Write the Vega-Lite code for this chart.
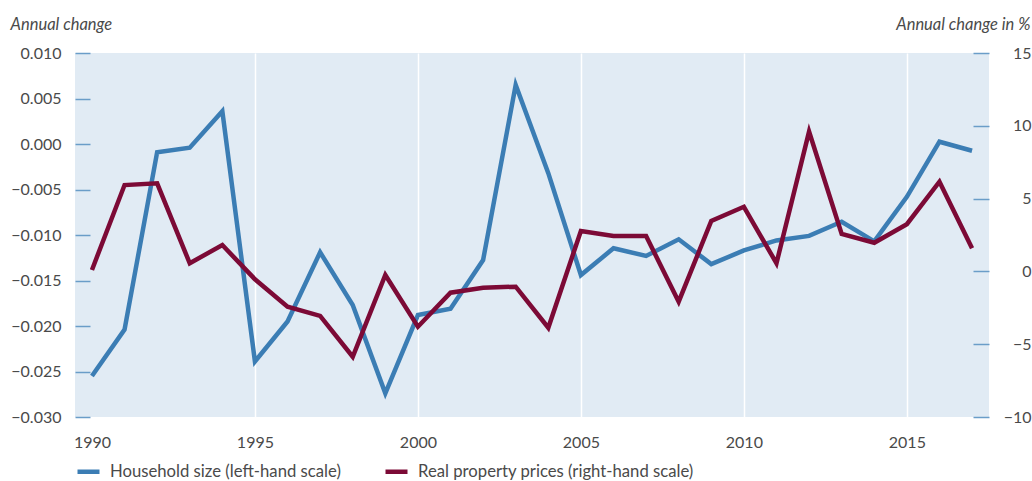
{
  "$schema": "https://vega.github.io/schema/vega-lite/v6.json",
  "width": 914,
  "height": 364,
  "autosize": {"type": "none"},
  "padding": {"left": 75, "top": 53, "right": 43, "bottom": 64},
  "background": "white",
  "config": {
    "view": {"fill": "#e1ebf4", "stroke": null},
    "font": "Lato",
    "axis": {"labelFont": "Lato", "titleFont": "Lato", "labelColor": "#4a4a4a", "titleColor": "#4a4a4a"},
    "legend": {"labelFont": "Lato"}
  },
  "data": {
    "values": [
      {"year": 1990, "hh": -0.0255, "rp": 0.1},
      {"year": 1991, "hh": -0.0204, "rp": 5.93},
      {"year": 1992, "hh": -0.0009, "rp": 6.05},
      {"year": 1993, "hh": -0.0004, "rp": 0.56},
      {"year": 1994, "hh": 0.0036, "rp": 1.81},
      {"year": 1995, "hh": -0.0239, "rp": -0.54},
      {"year": 1996, "hh": -0.0195, "rp": -2.42},
      {"year": 1997, "hh": -0.0119, "rp": -3.06},
      {"year": 1998, "hh": -0.0177, "rp": -5.86},
      {"year": 1999, "hh": -0.0274, "rp": -0.25},
      {"year": 2000, "hh": -0.0188, "rp": -3.8},
      {"year": 2001, "hh": -0.0181, "rp": -1.46},
      {"year": 2002, "hh": -0.01275, "rp": -1.12},
      {"year": 2003, "hh": 0.0065, "rp": -1.05},
      {"year": 2004, "hh": -0.0032, "rp": -3.87},
      {"year": 2005, "hh": -0.0144, "rp": 2.78},
      {"year": 2006, "hh": -0.01146, "rp": 2.43},
      {"year": 2007, "hh": -0.0123, "rp": 2.43},
      {"year": 2008, "hh": -0.01047, "rp": -2.08},
      {"year": 2009, "hh": -0.0132, "rp": 3.46},
      {"year": 2010, "hh": -0.0117, "rp": 4.44},
      {"year": 2011, "hh": -0.0106, "rp": 0.56},
      {"year": 2012, "hh": -0.0101, "rp": 9.6},
      {"year": 2013, "hh": -0.00854, "rp": 2.57},
      {"year": 2014, "hh": -0.0107, "rp": 1.97},
      {"year": 2015, "hh": -0.0058, "rp": 3.24},
      {"year": 2016, "hh": 0.00025, "rp": 6.16},
      {"year": 2017, "hh": -0.00074, "rp": 1.59}
    ]
  },
  "encoding": {
    "x": {
      "field": "year",
      "type": "quantitative",
      "scale": {"domain": [1989.48, 2017.52], "nice": false, "zero": false},
      "axis": {
        "orient": "bottom",
        "title": null,
        "values": [1990, 1995, 2000, 2005, 2010, 2015],
        "format": "d",
        "domain": false,
        "ticks": false,
        "labelPadding": 17,
        "labelFontSize": 16,
        "labelBaseline": "top",
        "grid": true,
        "gridColor": "white",
        "gridWidth": 1.5,
        "gridOpacity": {"condition": {"test": "datum.value === 1990", "value": 0}, "value": 1}
      }
    }
  },
  "layer": [
    {
      "mark": {"type": "line", "strokeWidth": 4.5, "strokeJoin": "miter"},
      "encoding": {
        "y": {
          "field": "hh",
          "type": "quantitative",
          "scale": {"domain": [-0.03, 0.01], "nice": false, "zero": false},
          "axis": {
            "orient": "left",
            "offset": -15,
            "values": [-0.03, -0.025, -0.02, -0.015, -0.01, -0.005, 0, 0.005, 0.01],
            "format": ".3f",
            "domain": false,
            "grid": false,
            "tickSize": 15,
            "tickColor": "#6a9dc8",
            "tickWidth": 1.5,
            "labelPadding": 14,
            "labelFontSize": 16,
            "title": "Annual change",
            "titleAngle": 0,
            "titleFontStyle": "italic",
            "titleFontWeight": "normal",
            "titleFontSize": 16.5,
            "titleAlign": "left",
            "titleBaseline": "alphabetic",
            "titleX": -80,
            "titleY": -24
          }
        },
        "color": {
          "datum": "Household size (left-hand scale)",
          "type": "nominal",
          "scale": {
            "domain": ["Household size (left-hand scale)", "Real property prices (right-hand scale)"],
            "range": ["#3b7db4", "#7c0a36"]
          },
          "legend": {
            "title": null,
            "orient": "none",
            "direction": "horizontal",
            "legendX": 0,
            "legendY": 405,
            "padding": 0,
            "symbolType": "stroke",
            "symbolSize": 484,
            "symbolStrokeWidth": 4.5,
            "labelOffset": 8,
            "labelFontSize": 16.7,
            "labelColor": "#4a4a4a",
            "columnPadding": 35,
            "labelLimit": 400
          }
        }
      }
    },
    {
      "mark": {"type": "line", "strokeWidth": 4.5, "strokeJoin": "miter"},
      "encoding": {
        "y": {
          "field": "rp",
          "type": "quantitative",
          "scale": {"domain": [-10, 15], "nice": false, "zero": false},
          "axis": {
            "orient": "right",
            "offset": -16,
            "values": [-10, -5, 0, 5, 10, 15],
            "domain": false,
            "grid": false,
            "tickSize": 16,
            "tickColor": "#6a9dc8",
            "tickWidth": 1.5,
            "labelAlign": "right",
            "labelPadding": 42,
            "labelFontSize": 16,
            "title": "Annual change in %",
            "titleAngle": 0,
            "titleFontStyle": "italic",
            "titleFontWeight": "normal",
            "titleFontSize": 16.5,
            "titleAlign": "right",
            "titleBaseline": "alphabetic",
            "titleX": 57,
            "titleY": -24
          }
        },
        "color": {"datum": "Real property prices (right-hand scale)", "type": "nominal"}
      }
    }
  ],
  "resolve": {"scale": {"y": "independent"}}
}
